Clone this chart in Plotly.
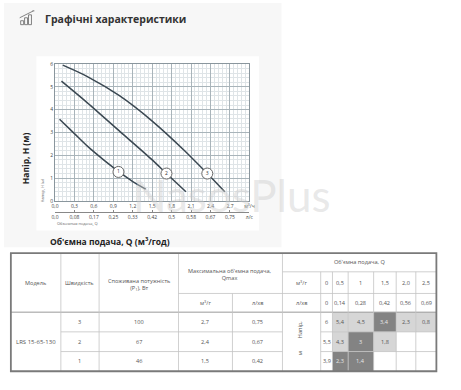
import plotly.graph_objects as go

W, H = 461, 390

# ---------------- chart data ----------------
q_speed1 = [0.07, 0.3, 0.5, 0.75, 1.0, 1.2, 1.4]
h_speed1 = [3.58, 2.95, 2.4, 1.8, 1.25, 0.85, 0.52]
q_speed2 = [0.1, 0.5, 1.0, 1.5, 1.72, 2.02]
h_speed2 = [5.25, 4.3, 3.05, 1.8, 1.2, 0.4]
q_speed3 = [0.12, 0.5, 1.0, 1.5, 2.0, 2.35, 2.62]
h_speed3 = [5.95, 5.45, 4.6, 3.5, 2.2, 1.2, 0.4]
label_q = [0.98, 1.72, 2.35]
label_h = [1.27, 1.2, 1.2]
label_txt = ["1", "2", "3"]

q_tick_vals = [0.0, 0.3, 0.6, 0.9, 1.2, 1.5, 1.8, 2.1, 2.4, 2.7, 3.0]
q_m3h_labels = ["0,0", "0,3", "0,6", "0,9", "1,2", "1,5", "1,8", "2,1", "2,4", "2,7", "м<sup>3</sup>/ч"]
q_ls_labels = ["0,0", "0,08", "0,17", "0,25", "0,33", "0,42", "0,5", "0,58", "0,67", "0,75", "л/с"]
h_tick_vals = [0, 1, 2, 3, 4, 5, 6]

# ---------------- table data ----------------
model_name = "LRS 15-65-130"
speeds = ["3", "2", "1"]
power_w = ["100", "67", "46"]
qmax_m3h = ["2,7", "2,4", "1,5"]
qmax_ls = ["0,75", "0,67", "0,42"]
q_hdr_m3h = ["0", "0,5", "1", "1,5", "2,0", "2,5"]
q_hdr_ls = ["0", "0,14", "0,28", "0,42", "0,56", "0,69"]
head_values = [
    ["6", "5,4", "4,5", "3,4", "2,3", "0,8"],
    ["5,5", "4,3", "3", "1,8", "", ""],
    ["3,9", "2,3", "1,4", "", "", ""],
]
# cell shading style: '' none, 'l' light, 'd' dark
head_shade = [
    ["", "l", "l", "d", "l", "l"],
    ["", "l", "d", "l", "", ""],
    ["", "d", "d", "", "", ""],
]

FONT = "Open Sans"
def px(x):
    return x / W
def py(y):
    return 1 - y / H

fig = go.Figure()

curve_color = "#3b4852"
for q, h in [(q_speed1, h_speed1), (q_speed2, h_speed2), (q_speed3, h_speed3)]:
    fig.add_trace(go.Scatter(x=q, y=h, mode="lines", line=dict(color=curve_color, width=1.5, shape="spline", smoothing=0.8),
                             showlegend=False, hoverinfo="skip"))
fig.add_trace(go.Scatter(x=label_q, y=label_h, mode="markers+text", text=label_txt, textposition="middle center",
                         textfont=dict(size=5, color="#333", family=FONT),
                         marker=dict(size=11, color="white", line=dict(color="#666", width=1)),
                         showlegend=False, hoverinfo="skip"))
fig.add_trace(go.Scatter(x=[0], y=[0], xaxis="x2", yaxis="y", mode="markers", marker=dict(opacity=0),
                         showlegend=False, hoverinfo="skip"))

major = "#a9b4ba"
minor = "#dfe4e7"
xdom = [px(52), px(250.3)]
fig.update_layout(
    width=W, height=H, margin=dict(l=0, r=0, t=0, b=0),
    paper_bgcolor="white", plot_bgcolor="white",
    font=dict(family=FONT, color="#444"),
    xaxis=dict(domain=xdom, range=[0, 3], tickmode="array", tickvals=q_tick_vals, ticktext=q_m3h_labels,
               showgrid=True, gridcolor=major, gridwidth=0.8, zeroline=False,
               showline=True, linecolor="#8a969d", linewidth=1, mirror=True,
               tickfont=dict(size=5, color="#444"), ticks="",
               minor=dict(tickmode="linear", tick0=0, dtick=0.06, showgrid=True, gridcolor=minor, gridwidth=0.5)),
    yaxis=dict(domain=[py(201), py(62)], range=[0, 6], tickmode="array", tickvals=h_tick_vals,
               showgrid=True, gridcolor=major, gridwidth=0.8, zeroline=False,
               showline=True, linecolor="#8a969d", linewidth=1, mirror=True,
               tickfont=dict(size=5, color="#444"), ticks="",
               minor=dict(tickmode="linear", tick0=0, dtick=0.2, showgrid=True, gridcolor=minor, gridwidth=0.5)),
    xaxis2=dict(domain=xdom, range=[0, 3], overlaying="x", anchor="free", position=py(212.7), side="bottom",
                tickmode="array", tickvals=q_tick_vals, ticktext=q_ls_labels, showgrid=False, zeroline=False,
                showline=True, linecolor="#888", linewidth=1, ticks="inside", ticklen=2, tickcolor="#888",
                tickfont=dict(size=5, color="#444")),
)

shapes = []
# gray panel and white chart box
shapes.append(dict(type="rect", xref="paper", yref="paper", x0=px(0), x1=px(283), y0=py(248), y1=py(0),
                   fillcolor="#f7f7f7", line=dict(width=0), layer="below"))
shapes.append(dict(type="rect", xref="paper", yref="paper", x0=px(33), x1=px(260), y0=py(231), y1=py(54),
                   fillcolor="white", line=dict(width=0), layer="below"))
# icon
icon_c = "#666"
for bx0, bx1, by0 in [(17, 20, 18), (21, 24, 15), (25, 28, 12)]:
    shapes.append(dict(type="rect", xref="paper", yref="paper", x0=px(bx0), x1=px(bx1), y0=py(22), y1=py(by0),
                       line=dict(color=icon_c, width=0.8)))
shapes.append(dict(type="line", xref="paper", yref="paper", x0=px(16), y0=py(15), x1=px(30), y1=py(8),
                   line=dict(color=icon_c, width=0.8)))
shapes.append(dict(type="line", xref="paper", yref="paper", x0=px(29), y0=py(8), x1=px(31), y1=py(8),
                   line=dict(color=icon_c, width=0.8)))

annotations = []
def ann(x, y, text, size=6, color="#555", bold=False, angle=0, xanchor="center", family=FONT):
    annotations.append(dict(x=px(x), y=py(y), xref="paper", yref="paper", text=text, showarrow=False,
                            xanchor=xanchor, yanchor="middle", textangle=angle,
                            font=dict(size=size, color=color, family=family, weight="bold" if bold else "normal")))

ann(40, 16, "Графічні характеристики", size=10.5, color="#333", bold=True, xanchor="left")
ann(22, 158, "Напір, H (м)", size=8.5, color="#222", bold=True, angle=-90)
ann(45, 242, "Об'ємна подача, Q (м<sup>3</sup>/год)", size=8.5, color="#222", bold=True, xanchor="left")
ann(52, 223.7, "Объемная подача, Q", size=4, color="#666", xanchor="left")
ann(39.3, 190, "Напор, H (м)", size=4, color="#666", angle=-90)
ann(232, 195, "NasosPlus", size=44, color="rgba(205,205,205,0.45)", family="Lato")

# ---------------- table ----------------
col_x = [7, 58, 97, 178, 233, 284, 323, 335, 351, 377, 400, 420, 441]
row_y = [254, 273, 295, 314, 334, 354, 374]
lc = "#c4c4c4"
def hline(x0, x1, y, color=lc, w=0.8):
    shapes.append(dict(type="line", xref="paper", yref="paper", x0=px(x0), x1=px(x1), y0=py(y), y1=py(y),
                       line=dict(color=color, width=w)))
def vline(x, y0, y1, color=lc, w=0.8):
    shapes.append(dict(type="line", xref="paper", yref="paper", x0=px(x), x1=px(x), y0=py(y0), y1=py(y1),
                       line=dict(color=color, width=w)))
def cell(x0, x1, y0, y1, color):
    shapes.append(dict(type="rect", xref="paper", yref="paper", x0=px(x0), x1=px(x1), y0=py(y1), y1=py(y0),
                       fillcolor=color, line=dict(width=0), layer="below"))

shade_col = {"l": "#d6d6d6", "d": "#838383"}
for r, row in enumerate(head_shade):
    for c, s in enumerate(row):
        if s:
            cell(col_x[6 + c], col_x[7 + c], row_y[3 + r], row_y[4 + r], shade_col[s])

# horizontal lines
hline(col_x[5], col_x[12], row_y[1])
hline(col_x[3], col_x[12], row_y[2])
hline(col_x[0], col_x[12], row_y[3], color="#9a9a9a", w=1)
hline(col_x[1], col_x[5], row_y[4])
hline(col_x[1], col_x[5], row_y[5])
hline(col_x[6], col_x[12], row_y[4])
hline(col_x[6], col_x[12], row_y[5])
# vertical lines
for i in [1, 2, 3, 5]:
    vline(col_x[i], row_y[0], row_y[6])
vline(col_x[4], row_y[2], row_y[6])
for i in range(6, 12):
    vline(col_x[i], row_y[1], row_y[6])
# outer border
shapes.append(dict(type="rect", xref="paper", yref="paper", x0=px(col_x[0]), x1=px(col_x[12]),
                   y0=py(row_y[6]), y1=py(row_y[0]), line=dict(color="#7a7a7a", width=1.8)))

def cx(i):
    return (col_x[i] + col_x[i + 1]) / 2
def cy(i):
    return (row_y[i] + row_y[i + 1]) / 2

TS = 5.6
tc = "#555"
ann(cx(0), 284, "Модель", size=TS, color=tc)
ann(cx(1), 284, "Швидкість", size=TS, color=tc)
ann(cx(2), 286, "Споживана потужність<br>(P<sub>1</sub>), Вт", size=TS, color=tc)
ann((col_x[3] + col_x[5]) / 2, 276, "Максимальна об'ємна подача,<br>Qmax", size=TS, color=tc)
ann(cx(3), cy(2), "м<sup>3</sup>/г", size=TS, color=tc)
ann(cx(4), cy(2), "л/хв", size=TS, color=tc)
ann((col_x[5] + col_x[12]) / 2, cy(0), "Об'ємна подача, Q", size=TS, color=tc)
ann(cx(5), cy(1), "м<sup>3</sup>/г", size=TS, color=tc)
ann(cx(5), cy(2), "л/хв", size=TS, color=tc)
for c in range(6):
    ann(cx(6 + c), cy(1), q_hdr_m3h[c], size=TS, color=tc)
    ann(cx(6 + c), cy(2), q_hdr_ls[c], size=TS, color=tc)

ann(cx(0), cy(4), model_name, size=TS + 0.4, color=tc)
for r in range(3):
    ann(cx(1), cy(3 + r), speeds[r], size=TS, color=tc)
    ann(cx(2), cy(3 + r), power_w[r], size=TS, color=tc)
    ann(cx(3), cy(3 + r), qmax_m3h[r], size=TS, color=tc)
    ann(cx(4), cy(3 + r), qmax_ls[r], size=TS, color=tc)
    for c in range(6):
        if head_values[r][c]:
            col = "#e8e8e8" if head_shade[r][c] == "d" else tc
            ann(cx(6 + c), cy(3 + r), head_values[r][c], size=TS, color=col)
ann(cx(5) - 2, 331.7, "Напір,", size=TS, color=tc, angle=-90)
ann(cx(5) - 2, 356, "м", size=TS, color=tc, angle=-90)

fig.update_layout(shapes=shapes, annotations=annotations)
fig.write_html("out.html", config={"displayModeBar": False},
               post_script="document.body.style.margin='0px';document.body.style.overflow='hidden';")
